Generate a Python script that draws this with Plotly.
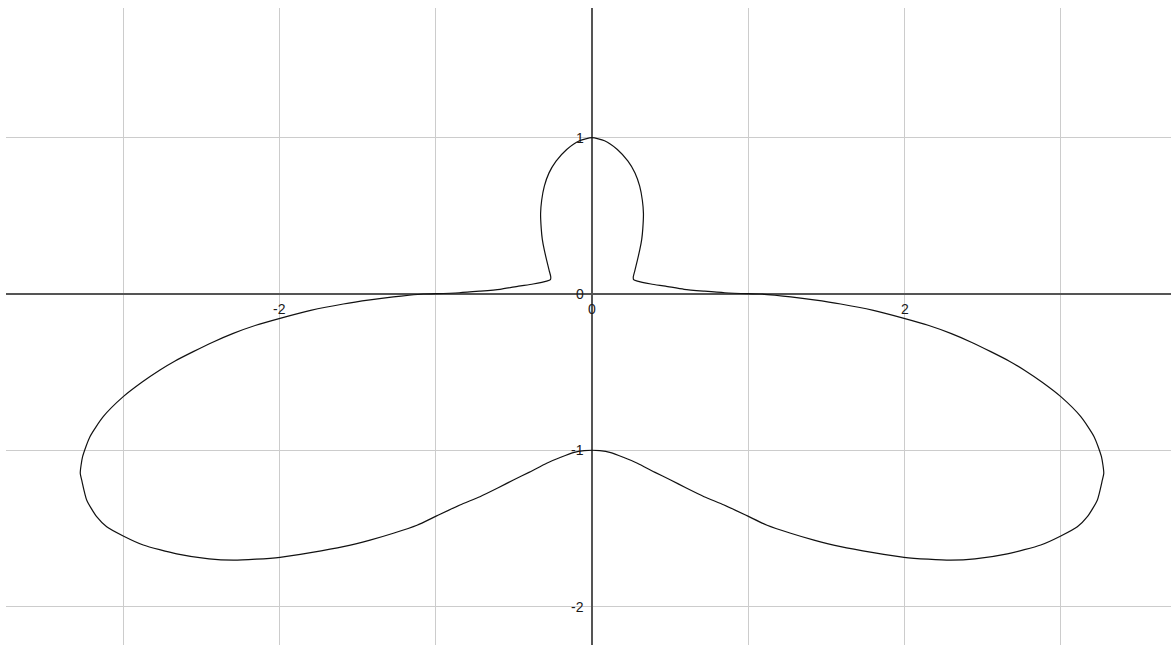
import plotly.graph_objects as go

# Closed curve, traced from the top of the head, counter-clockwise
x_pts = [
    0.0, -0.08, -0.162, -0.23, -0.275, -0.305, -0.322, -0.329, -0.325, -0.318,
    -0.305, -0.29, -0.274, -0.264, -0.266, -0.29, -0.377, -0.47, -0.589, -0.72,
    -0.85, -1.0, -1.08, -1.17, -1.271, -1.42, -1.591, -1.8, -1.996, -2.15,
    -2.295, -2.43, -2.551, -2.67, -2.764, -2.88, -2.999, -3.127, -3.212, -3.259,
    -3.274, -3.265, -3.233, -3.169, -3.105, -2.999, -2.871, -2.657, -2.45, -2.295,
    -2.15, -1.996, -1.8, -1.591, -1.42, -1.271, -1.12, -0.994, -0.845, -0.717,
    -0.6, -0.503, -0.4, -0.29, -0.2, -0.12, -0.05,
    0.0,
    0.05, 0.12, 0.2, 0.29, 0.4, 0.503, 0.6, 0.717, 0.845, 0.994,
    1.12, 1.271, 1.42, 1.591, 1.8, 1.996, 2.15, 2.295, 2.45, 2.657,
    2.871, 2.999, 3.105, 3.169, 3.233, 3.265, 3.274, 3.259, 3.212, 3.127,
    2.999, 2.88, 2.764, 2.67, 2.551, 2.43, 2.295, 2.15, 1.996, 1.8,
    1.591, 1.42, 1.271, 1.17, 1.08, 1.0, 0.85, 0.72, 0.589, 0.47,
    0.377, 0.29, 0.266, 0.264, 0.274, 0.29, 0.305, 0.318, 0.325, 0.329,
    0.322, 0.305, 0.275, 0.23, 0.162, 0.08, 0.0,
]
y_pts = [
    1.0, 0.981, 0.925, 0.85, 0.775, 0.69, 0.6, 0.515, 0.42, 0.35,
    0.28, 0.215, 0.15, 0.11, 0.092, 0.082, 0.064, 0.05, 0.03, 0.018,
    0.008, 0.002, 0.0, -0.008, -0.019, -0.038, -0.064, -0.105, -0.156, -0.2,
    -0.252, -0.31, -0.369, -0.43, -0.486, -0.565, -0.657, -0.785, -0.913, -1.041,
    -1.147, -1.19, -1.318, -1.425, -1.489, -1.548, -1.606, -1.663, -1.695, -1.703,
    -1.697, -1.685, -1.655, -1.617, -1.575, -1.531, -1.48, -1.42, -1.35, -1.297,
    -1.24, -1.19, -1.14, -1.083, -1.045, -1.015, -1.002,
    -1.0,
    -1.002, -1.015, -1.045, -1.083, -1.14, -1.19, -1.24, -1.297, -1.35, -1.42,
    -1.48, -1.531, -1.575, -1.617, -1.655, -1.685, -1.697, -1.703, -1.695, -1.663,
    -1.606, -1.548, -1.489, -1.425, -1.318, -1.19, -1.147, -1.041, -0.913, -0.785,
    -0.657, -0.565, -0.486, -0.43, -0.369, -0.31, -0.252, -0.2, -0.156, -0.105,
    -0.064, -0.038, -0.019, -0.008, 0.0, 0.002, 0.008, 0.018, 0.03, 0.05,
    0.064, 0.082, 0.092, 0.11, 0.15, 0.215, 0.28, 0.35, 0.42, 0.515,
    0.6, 0.69, 0.775, 0.85, 0.925, 0.981, 1.0,
]

# Axis labels drawn beside the axes through the origin
x_label_vals = [-2, 0, 2]
x_label_text = ["-2", "0", "2"]
y_label_vals = [1, 0, -1, -2]
y_label_text = ["1", "0", "-1", "-2"]

fig = go.Figure()
fig.add_trace(go.Scatter(
    x=x_pts, y=y_pts, mode="lines",
    line=dict(color="#111111", width=1.2, shape="spline", smoothing=0.6),
    hoverinfo="skip", showlegend=False,
))

label_font = dict(family="Liberation Sans, Arial, sans-serif", size=14, color="#1a1a1a")
annotations = []
for v, t in zip(x_label_vals, x_label_text):
    annotations.append(dict(x=v, y=0, xref="x", yref="y", text=t, showarrow=False,
                            xanchor="center", yanchor="middle", yshift=-15, font=label_font))
for v, t in zip(y_label_vals, y_label_text):
    annotations.append(dict(x=0, y=v, xref="x", yref="y", text=t, showarrow=False,
                            xanchor="right", yanchor="middle", xshift=-6, font=label_font))

axis_common = dict(
    showgrid=True, gridcolor="#cccccc", gridwidth=1,
    zeroline=True, zerolinecolor="#555555", zerolinewidth=1.5,
    showticklabels=False, ticks="", showline=False,
    tick0=0, dtick=1, fixedrange=True,
)

fig.update_layout(
    width=1171, height=645,
    margin=dict(l=6, r=0, t=8, b=0),
    paper_bgcolor="white", plot_bgcolor="white",
    xaxis=dict(range=[-3.749, 3.704], **axis_common),
    yaxis=dict(range=[-2.246, 1.83], **axis_common),
    annotations=annotations,
    showlegend=False,
)

fig.write_html("out.html", config={"displayModeBar": False})
